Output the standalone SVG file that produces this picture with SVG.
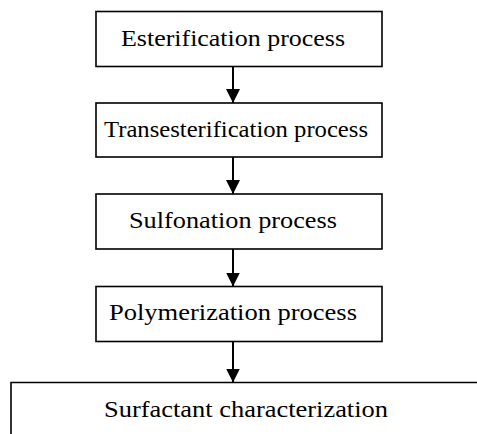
<svg xmlns="http://www.w3.org/2000/svg" width="477" height="434" viewBox="0 0 477 434">
<defs>
<style>
.box{fill:#fff;stroke:#000;stroke-width:1.6}
.lbl{font-family:"Liberation Serif","Times New Roman",serif;font-size:24px;fill:#000;text-anchor:middle}
.conn{stroke:#000;stroke-width:2;fill:none}
</style>
<marker id="ah" viewBox="0 0 14 14" refX="14" refY="7" markerWidth="14" markerHeight="14" markerUnits="userSpaceOnUse" orient="auto">
<path d="M0,0 L14,7 L0,14 Z" fill="#000"/>
</marker>
</defs>
<rect width="477" height="434" fill="#fff"/>
<g id="n1"><rect class="box" x="96" y="11.5" width="286" height="55"/><text class="lbl" x="233" y="45.7" textLength="224" lengthAdjust="spacingAndGlyphs">Esterification process</text></g>
<g id="n2"><rect class="box" x="96" y="103" width="286" height="54"/><text class="lbl" x="236" y="136.7" textLength="264" lengthAdjust="spacingAndGlyphs">Transesterification process</text></g>
<g id="n3"><rect class="box" x="96" y="194" width="286" height="55"/><text class="lbl" x="233" y="228" textLength="208" lengthAdjust="spacingAndGlyphs">Sulfonation process</text></g>
<g id="n4"><rect class="box" x="96" y="286.5" width="286" height="55"/><text class="lbl" x="233" y="320" textLength="248" lengthAdjust="spacingAndGlyphs">Polymerization process</text></g>
<g id="n5"><path class="box" d="M480,382.5 H11 V440"/><text class="lbl" x="246" y="416.7" textLength="284" lengthAdjust="spacingAndGlyphs">Surfactant characterization</text></g>
<g id="connectors">
<line class="conn" x1="233" y1="66.5" x2="233" y2="103" marker-end="url(#ah)"/>
<line class="conn" x1="233" y1="157" x2="233" y2="194" marker-end="url(#ah)"/>
<line class="conn" x1="233" y1="249" x2="233" y2="286.5" marker-end="url(#ah)"/>
<line class="conn" x1="233" y1="341.5" x2="233" y2="382.5" marker-end="url(#ah)"/>
</g>
</svg>
